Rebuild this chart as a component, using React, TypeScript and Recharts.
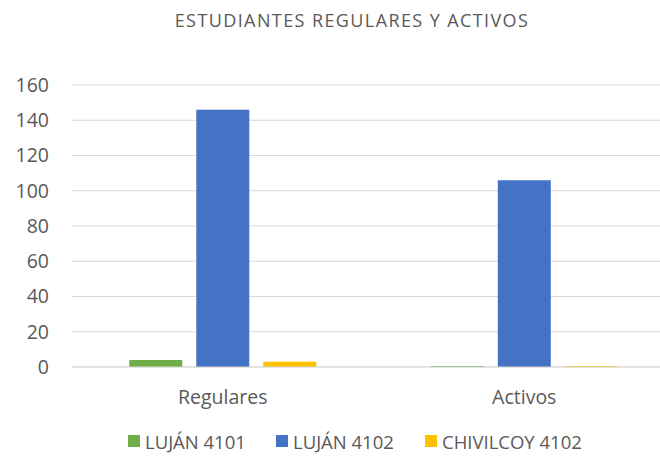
import { BarChart, Bar, XAxis, YAxis, CartesianGrid } from "recharts";

// ─── Data ─────────────────────────────────────────────────────────────────────

const categories = ["Regulares", "Activos"];
const lujan4101 = [4, 0];
const lujan4102 = [146, 106];
const chivilcoy4102 = [3, 0];
const yTicks = [0, 20, 40, 60, 80, 100, 120, 140, 160];

const series = [
  { key: "lujan4101", label: "LUJÁN 4101", color: "#70AD47", values: lujan4101 },
  { key: "lujan4102", label: "LUJÁN 4102", color: "#4472C4", values: lujan4102 },
  { key: "chivilcoy4102", label: "CHIVILCOY 4102", color: "#FFC000", values: chivilcoy4102 },
];

const data = categories.map((name, i) => {
  const row: Record<string, string | number> = { name };
  series.forEach((s) => (row[s.key] = s.values[i]));
  return row;
});

const FONT = "'Open Sans', 'Liberation Sans', sans-serif";
const TEXT = "#595959";
const legendLeft = [128, 276, 425];

export default function App() {
  return (
    <div
      style={{
        position: "absolute",
        left: 0,
        top: 0,
        width: 660,
        height: 458,
        overflow: "hidden",
        background: "#fff",
        fontFamily: FONT,
      }}
    >
      <div
        style={{
          position: "absolute",
          top: 8,
          left: 152,
          width: 400,
          textAlign: "center",
          fontSize: 18,
          letterSpacing: 1.4,
          lineHeight: "24px",
          color: TEXT,
          whiteSpace: "nowrap",
        }}
      >
        ESTUDIANTES REGULARES Y ACTIVOS
      </div>

      <BarChart
        width={700}
        height={458}
        data={data}
        margin={{ top: 85, right: 25, left: 0, bottom: 51 }}
        barGap={14}
        barCategoryGap="19%"
      >
        <CartesianGrid vertical={false} stroke="#D9D9D9" strokeWidth={1} />
        <XAxis
          dataKey="name"
          axisLine={{ stroke: "#D9D9D9" }}
          tickLine={false}
          tick={{ fill: TEXT, fontSize: 19.5, fontFamily: FONT }}
          tickMargin={17}
          height={40}
        />
        <YAxis
          domain={[0, 160]}
          ticks={yTicks}
          axisLine={false}
          tickLine={false}
          tick={{ fill: TEXT, fontSize: 19.5, fontFamily: FONT }}
          tickMargin={17}
          width={72}
          interval={0}
        />
        {series.map((s) => (
          <Bar
            key={s.key}
            dataKey={s.key}
            fill={s.color}
            minPointSize={1}
            isAnimationActive={false}
          />
        ))}
      </BarChart>

      {series.map((s, i) => (
        <div
          key={s.key}
          style={{
            position: "absolute",
            top: 428,
            left: legendLeft[i],
            height: 26,
            display: "flex",
            alignItems: "center",
            fontSize: 18.5,
            color: TEXT,
            whiteSpace: "nowrap",
          }}
        >
          <span style={{ width: 12, height: 12, background: s.color, marginRight: 5, display: "inline-block" }} />
          {s.label}
        </div>
      ))}
    </div>
  );
}
